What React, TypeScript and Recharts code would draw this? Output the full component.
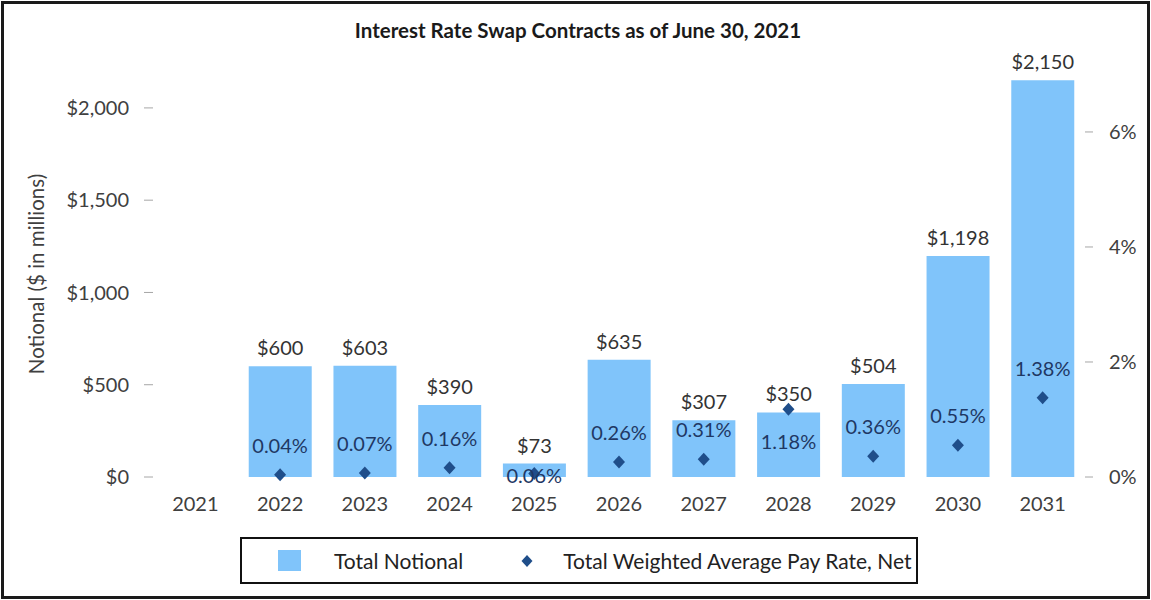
import React from "react";
import {
  ComposedChart,
  Bar,
  Scatter,
  XAxis,
  YAxis,
  LabelList,
  Label,
} from "recharts";

const years = ["2021", "2022", "2023", "2024", "2025", "2026", "2027", "2028", "2029", "2030", "2031"];
const notional = [null, 600, 603, 390, 73, 635, 307, 350, 504, 1198, 2150];
const payRate = [null, 0.04, 0.07, 0.16, 0.06, 0.26, 0.31, 1.18, 0.36, 0.55, 1.38];
const leftTicks = [0, 500, 1000, 1500, 2000];
const rightTicks = [0, 2, 4, 6];

const data = years.map((year, i) => ({ year, notional: notional[i], rate: payRate[i] }));

const BAR_COLOR = "#80C4FA";
const DOT_COLOR = "#1F4E8A";
const TEXT = "#404040";
const FONT = "Lato, 'Open Sans', sans-serif";
const FS = 20;

const money = (v: number | null) => {
  if (v === null || v === undefined) return "";
  return "$" + String(v).replace(/\B(?=(\d{3})+(?!\d))/g, ",");
};

// where the % label sits relative to its diamond
const labelShift = (year: string) => {
  if (year === "2025") return 1;
  if (year === "2028") return 32;
  return -30;
};

const Diamond = (props: any) => {
  const { cx, cy, payload } = props;
  if (!payload || payload.rate === null || isNaN(cy)) return null;
  const r = 6.5;
  return (
    <g>
      <polygon
        points={`${cx},${cy - r} ${cx + r - 0.5},${cy} ${cx},${cy + r} ${cx - r + 0.5},${cy}`}
        fill={DOT_COLOR}
      />
      <text
        x={cx}
        y={cy + labelShift(payload.year)}
        textAnchor="middle"
        dominantBaseline="central"
        fontSize={FS}
        fill="#1F3864"
        fontFamily={FONT}
      >
        {payload.rate.toFixed(2)}%
      </text>
    </g>
  );
};

const App = () => (
  <div style={{ position: "absolute", left: 0, top: 0, width: 1151, height: 600, background: "#fff", fontFamily: FONT }}>
    <div
      style={{
        position: "absolute",
        left: 0,
        top: 17,
        width: 1156,
        textAlign: "center",
        fontWeight: 700,
        fontSize: 20.5,
        lineHeight: "26px",
        color: "#1a1a1a",
      }}
    >
      Interest Rate Swap Contracts as of June 30, 2021
    </div>
    <ComposedChart
      width={1151}
      height={600}
      data={data}
      margin={{ top: 71, right: 0, bottom: 83, left: 0 }}
    >
      <XAxis
        dataKey="year"
        axisLine={false}
        tickLine={false}
        tickSize={0}
        tickMargin={20}
        height={40}
        tick={{ fill: TEXT, fontSize: FS }}
        interval={0}
      />
      <YAxis
        yAxisId="left"
        width={153}
        domain={[0, 2200]}
        ticks={leftTicks}
        axisLine={false}
        tickSize={9}
        tickMargin={15}
        tickLine={{ stroke: "#A6A6A6" }}
        tick={{ fill: TEXT, fontSize: FS }}
        tickFormatter={(v: number) => money(v)}
      >
        <Label
          content={(p: any) => {
            const vb = p.viewBox || {};
            const x = 36;
            const y = vb.y + vb.height / 2;
            return (
              <text
                x={x}
                y={y}
                transform={`rotate(-90 ${x} ${y})`}
                textAnchor="middle"
                dominantBaseline="central"
                fontSize={20.5}
                fill={TEXT}
                fontFamily={FONT}
              >
                Notional ($ in millions)
              </text>
            );
          }}
        />
      </YAxis>
      <YAxis
        yAxisId="right"
        orientation="right"
        width={66}
        domain={[0, 7.06]}
        ticks={rightTicks}
        axisLine={false}
        tickSize={8}
        tickMargin={16}
        tickLine={{ stroke: "#A6A6A6" }}
        tick={{ fill: TEXT, fontSize: FS }}
        tickFormatter={(v: number) => `${v}%`}
      />
      <Bar yAxisId="left" dataKey="notional" fill={BAR_COLOR} barSize={63} isAnimationActive={false}>
        <LabelList
          dataKey="notional"
          position="top"
          offset={11}
          fill="#333"
          fontSize={FS}
          formatter={(v: any) => money(v)}
        />
      </Bar>
      <Scatter yAxisId="right" dataKey="rate" shape={Diamond} isAnimationActive={false} />
    </ComposedChart>
    <div
      style={{
        position: "absolute",
        left: 240,
        top: 537,
        width: 674,
        height: 43,
        border: "2px solid #111",
        display: "flex",
        alignItems: "center",
        fontSize: 21,
        color: "#222",
        overflow: "hidden",
        whiteSpace: "nowrap",
      }}
    >
      <span style={{ display: "inline-block", width: 23, height: 21, background: BAR_COLOR, marginLeft: 36 }} />
      <span style={{ marginLeft: 33 }}>Total Notional</span>
      <svg width={14} height={14} style={{ marginLeft: 57 }}>
        <polygon points="7,1 12.5,7 7,13 1.5,7" fill={DOT_COLOR} />
      </svg>
      <span style={{ marginLeft: 29 }}>Total Weighted Average Pay Rate, Net</span>
    </div>
    <div
      style={{
        position: "absolute",
        left: 1,
        top: 1,
        width: 1143,
        height: 592,
        border: "3px solid #1a1a1a",
        pointerEvents: "none",
      }}
    />
  </div>
);

export default App;
